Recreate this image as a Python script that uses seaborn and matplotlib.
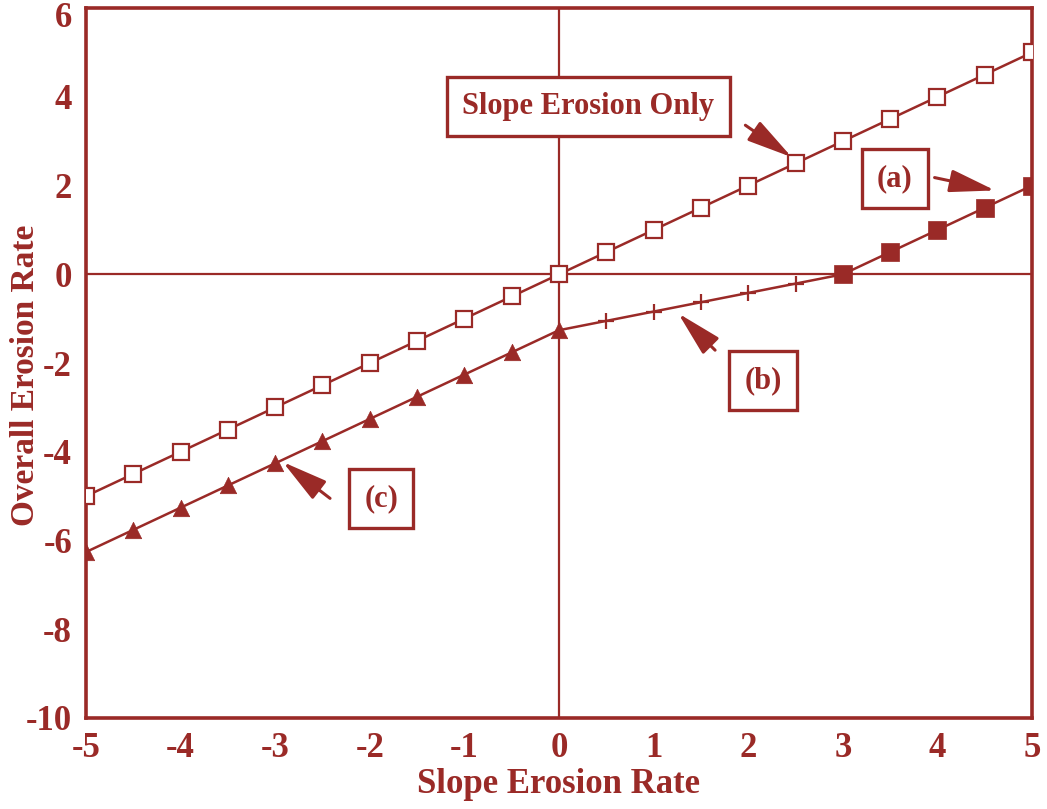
import matplotlib
matplotlib.use("Agg")
import matplotlib.pyplot as plt
import matplotlib.transforms as mtransforms
import seaborn as sns
import pandas as pd

# Data
slope_rate = [-5, -4.5, -4, -3.5, -3, -2.5, -2, -1.5, -1, -0.5, 0,
              0.5, 1, 1.5, 2, 2.5, 3, 3.5, 4, 4.5, 5]
slope_only = [-5, -4.5, -4, -3.5, -3, -2.5, -2, -1.5, -1, -0.5, 0,
              0.5, 1, 1.5, 2, 2.5, 3, 3.5, 4, 4.5, 5]
# combined curve split into its three regimes
c_x = [-5, -4.5, -4, -3.5, -3, -2.5, -2, -1.5, -1, -0.5, 0]
c_y = [-6.26, -5.76, -5.26, -4.76, -4.26, -3.76, -3.26, -2.76, -2.26, -1.76, -1.26]
b_x = [0.5, 1, 1.5, 2, 2.5]
b_y = [-1.05, -0.84, -0.63, -0.42, -0.21]
a_x = [3, 3.5, 4, 4.5, 5]
a_y = [0, 0.5, 1, 1.5, 2]

x_ticks = [-5, -4, -3, -2, -1, 0, 1, 2, 3, 4, 5]
y_ticks = [-10, -8, -6, -4, -2, 0, 2, 4, 6]

RED = "#9a2a27"

sns.set_style("white")
plt.rcParams["font.family"] = ["Liberation Serif", "DejaVu Serif"]
plt.rcParams["font.weight"] = "bold"

fig = plt.figure(figsize=(10.47, 8.09), dpi=100)
ax = fig.add_axes([0.0821, 0.1125, 0.9036, 0.8775])

# reference axes through the origin
ax.axhline(0, color=RED, lw=1.6, zorder=1)
ax.axvline(0, color=RED, lw=1.6, zorder=1)

# slope erosion only
df_s = pd.DataFrame({"x": slope_rate, "y": slope_only})
sns.lineplot(data=df_s, x="x", y="y", ax=ax, color=RED, lw=1.8,
             marker="s", markersize=12, markerfacecolor="white",
             markeredgecolor=RED, markeredgewidth=1.6, zorder=3)

# combined curve
df_all = pd.DataFrame({"x": c_x + b_x + a_x, "y": c_y + b_y + a_y})
sns.lineplot(data=df_all, x="x", y="y", ax=ax, color=RED, lw=1.8, zorder=3)
sns.scatterplot(x=c_x, y=c_y, ax=ax, marker="^", s=140, color=RED,
                edgecolor=RED, linewidth=0.5, zorder=4)
sns.scatterplot(x=b_x, y=b_y, ax=ax, marker="+", s=140, color=RED,
                linewidth=1.6, zorder=4)
sns.scatterplot(x=a_x, y=a_y, ax=ax, marker="s", s=170, color=RED,
                edgecolor=RED, linewidth=0.5, zorder=4)

ax.set_xlim(-5, 5)
ax.set_ylim(-10, 6)
ax.set_xticks(x_ticks)
ax.set_yticks(y_ticks)
ax.set_xticklabels([str(v) for v in x_ticks])
ax.set_yticklabels([str(v) for v in y_ticks])
ax.tick_params(axis="both", direction="out", length=8, width=2,
               colors=RED, labelsize=25, pad=2)
for lab in ax.get_xticklabels() + ax.get_yticklabels():
    lab.set_fontweight("bold")
# nudge the topmost y label down so it sits inside the figure
top_lab = ax.get_yticklabels()[-1]
top_lab.set_transform(top_lab.get_transform() +
                      mtransforms.ScaledTranslation(0, -6 / 100, fig.dpi_scale_trans))

for sp in ax.spines.values():
    sp.set_color(RED)
    sp.set_linewidth(2.6)

ax.set_xlabel("Slope Erosion Rate", fontsize=25, fontweight="bold",
              color=RED, labelpad=2)
ax.set_ylabel("Overall Erosion Rate", fontsize=24, fontweight="bold",
              color=RED, va="center")
ax.yaxis.set_label_coords(-0.064, 0.483)

box = dict(boxstyle="square,pad=0.5", fc="white", ec=RED, lw=2.4)
arrow = dict(arrowstyle="-|>,head_length=2.8,head_width=0.7",
             color=RED, lw=2.2, shrinkA=0, shrinkB=0)

ax.text(0.31, 3.78, "Slope Erosion Only", fontsize=22, fontweight="bold",
        color=RED, ha="center", va="center", bbox=box, zorder=5)
ax.annotate("", xy=(2.46, 2.64), xytext=(1.97, 3.36), arrowprops=arrow, zorder=5)

ax.text(3.55, 2.16, "(a)", fontsize=22, fontweight="bold", color=RED,
        ha="center", va="center", bbox=box, zorder=5)
ax.annotate("", xy=(4.61, 1.89), xytext=(3.97, 2.18), arrowprops=arrow, zorder=5)

ax.text(2.16, -2.39, "(b)", fontsize=22, fontweight="bold", color=RED,
        ha="center", va="center", bbox=box, zorder=5)
ax.annotate("", xy=(1.26, -0.88), xytext=(1.65, -1.71), arrowprops=arrow, zorder=5)

ax.text(-1.88, -5.05, "(c)", fontsize=22, fontweight="bold", color=RED,
        ha="center", va="center", bbox=box, zorder=5)
ax.annotate("", xy=(-2.92, -4.23), xytext=(-2.42, -5.05), arrowprops=arrow, zorder=5)

fig.savefig("out.png", dpi=100)
